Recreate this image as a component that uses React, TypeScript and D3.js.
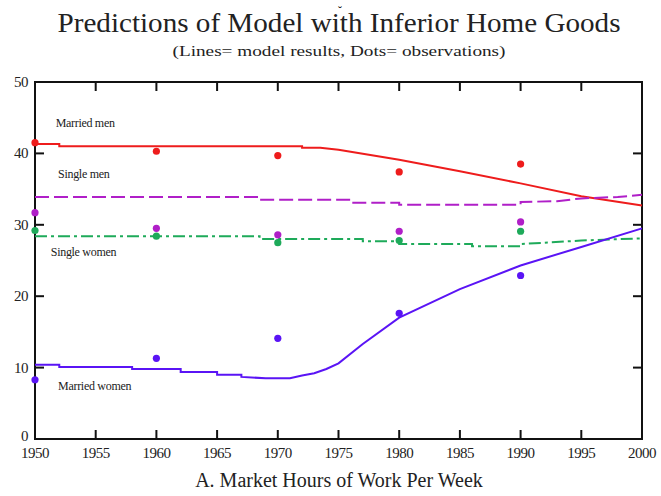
import React from "react";
import * as d3 from "d3";

const W = 661;
const H = 496;

const xTicks = [1950, 1955, 1960, 1965, 1970, 1975, 1980, 1985, 1990, 1995, 2000];
const yTicks = [0, 10, 20, 30, 40, 50];

// Model lines (step-like)
const marriedMenLine: [number, number][] = [
  [1950, 41.3], [1952, 41.3], [1952, 41.0], [1972, 41.0], [1972, 40.8], [1973.5, 40.8],
  [1975, 40.5], [1980, 39.1], [1985, 37.5], [1990, 35.8], [1995, 34.0], [2000, 32.7],
];
const singleMenLine: [number, number][] = [
  [1950, 33.9], [1968.5, 33.9], [1968.5, 33.5], [1976, 33.5], [1976, 33.1], [1980, 33.1],
  [1980, 32.8], [1990, 32.8], [1990, 33.2], [1993, 33.3], [1995, 33.7], [1998, 33.9], [2000, 34.2],
];
const singleWomenLine: [number, number][] = [
  [1950, 28.4], [1968.5, 28.4], [1968.5, 28.0], [1977, 28.0], [1977, 27.7], [1980, 27.7],
  [1980, 27.3], [1986, 27.3], [1986, 27.0], [1990, 27.0], [1990, 27.3], [1995, 27.8], [2000, 28.1],
];
const marriedWomenLine: [number, number][] = [
  [1950, 10.4], [1952, 10.4], [1952, 10.1], [1958, 10.1], [1958, 9.8], [1962, 9.8],
  [1962, 9.4], [1965, 9.4], [1965, 9.0], [1967, 9.0], [1967, 8.7], [1969, 8.5], [1971, 8.5],
  [1972, 8.9], [1973, 9.2], [1974, 9.8], [1975, 10.6], [1977, 13.3], [1980, 17.0],
  [1985, 21.0], [1990, 24.3], [1995, 26.9], [2000, 29.5],
];

// Observations
const obsYears = [1950, 1960, 1970, 1980, 1990];
const marriedMenObs = [41.5, 40.3, 39.7, 37.4, 38.5];
const singleMenObs = [31.7, 29.5, 28.6, 29.1, 30.4];
const singleWomenObs = [29.2, 28.4, 27.5, 27.8, 29.1];
const marriedWomenObs = [8.3, 11.3, 14.1, 17.6, 22.9];

const seriesNames = ["Married men", "Single men", "Single women", "Married women"];
const colors = ["#ee1c1c", "#b01fc8", "#1eaa5a", "#5a14f5"];

const margin = { left: 35, right: 19, top: 82, bottom: 57 };

export default function App() {
  const x = d3.scaleLinear().domain([1950, 2000]).range([margin.left, W - margin.right]);
  const y = d3.scaleLinear().domain([0, 50]).range([H - margin.bottom, margin.top]);
  const line = d3.line<[number, number]>().x((d) => x(d[0])).y((d) => y(d[1]));

  const lines = [marriedMenLine, singleMenLine, singleWomenLine, marriedWomenLine];
  const obs = [marriedMenObs, singleMenObs, singleWomenObs, marriedWomenObs];
  const dashes = [undefined, "14,5", "12,4,3,4", undefined];

  const labelPos: [number, number][] = [
    [1951.7, 43.7],
    [1951.9, 36.6],
    [1951.3, 25.7],
    [1951.9, 6.8],
  ];

  const x0 = x(1950), x1 = x(2000), yTop = y(50), yBot = y(0);
  const tickLen = 9;

  return (
    <svg width={W} height={H} style={{ position: "absolute", left: 0, top: 0, background: "#fff" }}>
      <text x={340} y={15} textAnchor="middle" fontFamily="Liberation Serif" fontSize={12} fill="#222">˘</text>
      <text x={339} y={32} textAnchor="middle" fontFamily="Liberation Serif" fontSize={27}
        textLength={563} lengthAdjust="spacingAndGlyphs" fill="#222">
        Predictions of Model with Inferior Home Goods
      </text>
      <text x={339} y={56} textAnchor="middle" fontFamily="Liberation Serif" fontSize={14}
        textLength={333} lengthAdjust="spacingAndGlyphs" fill="#222">
        (Lines= model results, Dots= observations)
      </text>

      {/* frame */}
      <rect x={x0} y={yTop} width={x1 - x0} height={yBot - yTop} fill="none" stroke="#111" strokeWidth={2} />
      {xTicks.map((t) => (
        <g key={"xt" + t}>
          <line x1={x(t)} x2={x(t)} y1={yBot} y2={yBot - tickLen} stroke="#111" strokeWidth={2} />
          <line x1={x(t)} x2={x(t)} y1={yTop} y2={yTop + tickLen} stroke="#111" strokeWidth={2} />
          <text x={x(t)} y={yBot + 19} textAnchor="middle" fontFamily="Liberation Serif" fontSize={15} fill="#222"
            letterSpacing={-0.5}>
            {t}
          </text>
        </g>
      ))}
      {yTicks.map((t) => (
        <g key={"yt" + t}>
          <line x1={x0} x2={x0 + tickLen} y1={y(t)} y2={y(t)} stroke="#111" strokeWidth={2} />
          <line x1={x1} x2={x1 - tickLen} y1={y(t)} y2={y(t)} stroke="#111" strokeWidth={2} />
          <text x={x0 - 7} y={y(t) + (t === 0 ? 2 : 5)} textAnchor="end" fontFamily="Liberation Serif" fontSize={15} fill="#222"
            letterSpacing={-0.5}>
            {t}
          </text>
        </g>
      ))}

      {lines.map((l, i) => (
        <path key={"l" + i} d={line(l) || ""} fill="none" stroke={colors[i]} strokeWidth={2}
          strokeDasharray={dashes[i]} />
      ))}
      {obs.map((vals, i) =>
        vals.map((v, j) => (
          <circle key={"o" + i + "-" + j} cx={x(obsYears[j])} cy={y(v)} r={3.6} fill={colors[i]} />
        ))
      )}
      {seriesNames.map((n, i) => (
        <text key={"n" + i} x={x(labelPos[i][0])} y={y(labelPos[i][1])} fontFamily="Liberation Serif"
          fontSize={12} fill="#222" letterSpacing={-0.3}>
          {n}
        </text>
      ))}

      <text x={339} y={487} textAnchor="middle" fontFamily="Liberation Serif" fontSize={20} fill="#222">
        A. Market Hours of Work Per Week
      </text>
    </svg>
  );
}
